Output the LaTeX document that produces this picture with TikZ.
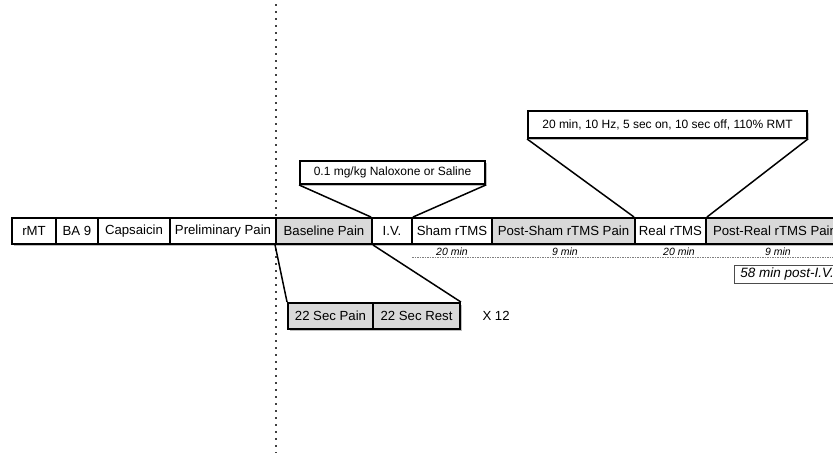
\documentclass[tikz,border=0pt]{standalone}
\usepackage{fontspec}
\setmainfont{Liberation Sans}
\usetikzlibrary{shadows}
\definecolor{paingray}{gray}{0.85}
\tikzset{
  stage/.style={draw, line width=1.9pt, fill=white, minimum height=26pt, inner sep=0pt,
    font=\fontsize{13.2}{15}\selectfont,
    drop shadow={opacity=0.5, shadow xshift=1.5pt, shadow yshift=-1.8pt}},
  painstage/.style={stage, fill=paingray},
  callout/.style={stage, font=\fontsize{12}{14}\selectfont},
  duration/.style={font=\fontsize{10.5}{12}\selectfont\itshape, inner sep=0pt},
}
\begin{document}
\begin{tikzpicture}[x=1pt,y=-1pt]
\useasboundingbox (0,0) rectangle (833,455);
\clip (0,0) rectangle (833,455);
\coordinate (dtop) at (276,4);
\coordinate (dbot) at (276,453);
\draw [line width=1.7pt, dash pattern=on 1.7pt off 5.3pt, black!75](dtop) -- (dbot);
\coordinate (dashA) at (412,257);
\coordinate (dashB) at (840,257);
\draw [gray, line width=0.8pt, dash pattern=on 1.5pt off 1pt](dashA) -- (dashB);
\node[stage,minimum width=44pt] (rmt) at (34,231){rMT};
\node[stage,minimum width=42pt] (ba) at (77,231){BA 9};
\node[stage,minimum width=72pt] (caps) at (134,231){Capsaicin};
\node[stage,minimum width=106pt] (prelim) at (223,231){Preliminary Pain};
\node[painstage,minimum width=96pt] (base) at (324,231){Baseline Pain};
\node[stage,minimum width=40pt] (iv) at (392,231){I.V.};
\node[stage,minimum width=80pt] (sham) at (452,231){Sham rTMS};
\node[painstage,minimum width=143pt] (postsham) at (563.5,231){Post-Sham rTMS Pain};
\node[stage,minimum width=71pt] (real) at (670.5,231){Real rTMS};
\node[painstage,minimum width=138pt] (postreal) at (775,231){Post-Real rTMS Pain};
\node[callout,minimum width=185pt,minimum height=23pt] (naloxone) at (392.5,172.5){0.1 mg/kg Naloxone or Saline};
\draw [line width=1.5pt](naloxone.south west) -- (iv.north west);
\draw [line width=1.5pt](naloxone.south east) -- (iv.north east);
\node[callout,minimum width=279pt,minimum height=27pt] (params) at (667.5,124.5){20 min, 10 Hz, 5 sec on, 10 sec off, 110\% RMT};
\draw [line width=1.5pt](params.south west) -- (real.north west);
\draw [line width=1.5pt](params.south east) -- (real.north east);
\node[painstage,minimum width=85pt] (pain22) at (330.5,316){22 Sec Pain};
\node[painstage,minimum width=87pt] (rest22) at (416.5,316){22 Sec Rest};
\draw [line width=1.5pt](base.south west) -- (pain22.north west);
\draw [line width=1.5pt](base.south east) -- (rest22.north east);
\node[anchor=west,font=\fontsize{13.2}{15}\selectfont] (reps) at (479,316){X 12};
\node[duration] (dsham) at (452,252){20 min};
\node[duration] (dpostsham) at (565,252){9 min};
\node[duration] (dreal) at (679,252){20 min};
\node[duration] (dpostreal) at (778,252){9 min};
\node[draw,line width=0.6pt,draw=black!70,anchor=north west,minimum height=18pt,inner xsep=6pt,inner ysep=0pt,font=\fontsize{13.5}{15}\selectfont\itshape] (postiv) at (734,265){58 min post-I.V.};
\end{tikzpicture}
\end{document}
